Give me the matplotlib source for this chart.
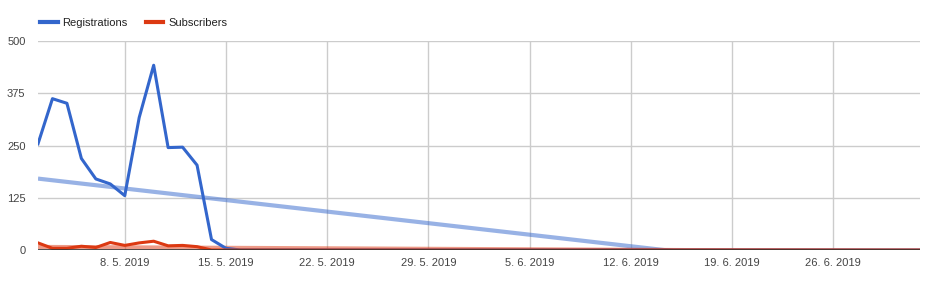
#!/usr/bin/env python3
"""Registrations vs subscribers, daily, May - July 2019"""

import matplotlib
matplotlib.use("Agg")
import matplotlib.pyplot as plt
import matplotlib.dates as mdates
from matplotlib.lines import Line2D
import numpy as np
import pandas as pd

# Daily data, 2. 5. 2019 - 2. 7. 2019
dates = pd.date_range("2019-05-02", "2019-07-02", freq="D")

registrations = [254, 362, 351, 219, 170, 158, 130, 317, 442, 245, 246, 203, 25, 4] + [0] * 48
subscribers = [17, 4, 4, 9, 6, 18, 11, 17, 21, 10, 11, 8, 0, 0] + [0] * 48

week_ticks = pd.date_range("2019-05-08", "2019-06-26", freq="7D")
y_ticks = [0, 125, 250, 375, 500]

BLUE = "#3366cc"
RED = "#dc3912"
TEXT = "#444444"
GRID = "#cccccc"

plt.rcParams["font.family"] = ["Liberation Sans", "DejaVu Sans"]

fig = plt.figure(figsize=(9.33, 2.88), dpi=100)
ax = fig.add_axes([38 / 933, 1 - 250 / 288, 882 / 933, 209 / 288])

# Linear trendlines (least squares over the whole range)
idx = np.arange(len(dates))
for series, color in [(registrations, BLUE), (subscribers, RED)]:
    k, q = np.polyfit(idx, series, 1)
    ax.plot(dates, k * idx + q, color=color, alpha=0.5, linewidth=3,
            solid_capstyle="butt", zorder=2)

ax.plot(dates, registrations, color=BLUE, linewidth=2.2, label="Registrations", zorder=4)
ax.plot(dates, subscribers, color=RED, linewidth=2.2, label="Subscribers", zorder=5)

ax.set_xlim(dates[0], dates[-1])
ax.set_ylim(0, 500)
ax.set_yticks(y_ticks)
ax.set_xticks(week_ticks)
ax.xaxis.set_major_formatter(
    plt.FuncFormatter(lambda v, p: (lambda d: f"{d.day}. {d.month}. {d.year}")(mdates.num2date(v))))

ax.grid(True, color=GRID, linewidth=1, zorder=0)
ax.axhline(0, color="#333333", linewidth=1.2, zorder=6)
for s in ax.spines.values():
    s.set_visible(False)
ax.tick_params(length=0, labelsize=8.0, colors=TEXT)
ax.tick_params(axis="y", pad=9)
ax.tick_params(axis="x", pad=5.5)

handles = [Line2D([], [], color=BLUE, linewidth=3), Line2D([], [], color=RED, linewidth=3)]
ax.legend(handles, ["Registrations", "Subscribers"], loc="lower left",
          bbox_to_anchor=(-0.003, 1.04), ncol=2, frameon=False, fontsize=8.0,
          handlelength=1.6, handletextpad=0.45, columnspacing=1.6, borderaxespad=0,
          labelcolor="#222222")

fig.savefig("out.png", dpi=100, facecolor="white")
